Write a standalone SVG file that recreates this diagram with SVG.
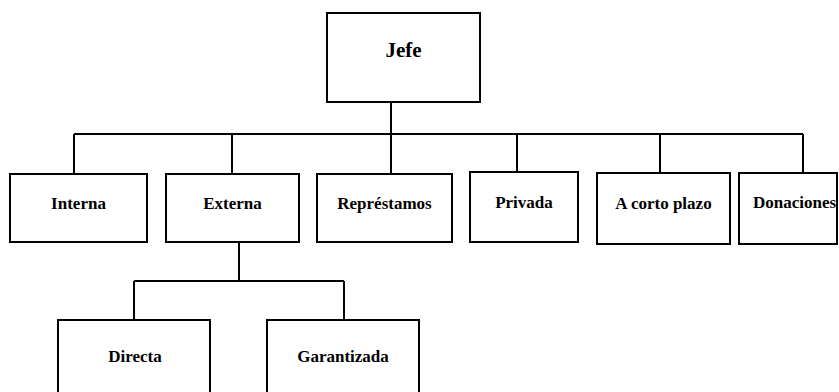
<svg xmlns="http://www.w3.org/2000/svg" width="839" height="392" viewBox="0 0 839 392">
<style>
.box{fill:#fff;stroke:#000;stroke-width:2}
.ln{fill:none;stroke:#000;stroke-width:2}
text{font-family:"Liberation Serif","Times New Roman",serif;font-weight:bold;font-size:17px;text-anchor:middle;fill:#000}
</style>
<rect width="839" height="392" fill="#fff"/>
<g id="connectors">
<path class="ln" d="M391 102V134M74 134H803M74 134V174M232 134V174M391 134V174M517 134V172M660 134V173M803 134V173"/>
<path class="ln" d="M239 242V281M134 281H344M134 281V320M344 281V320"/>
</g>
<g id="jefe"><rect class="box" x="327" y="13" width="153" height="89"/><text x="403.5" y="57" style="font-size:21px">Jefe</text></g>
<g id="interna"><rect class="box" x="10" y="174" width="137" height="68"/><text x="78.5" y="209">Interna</text></g>
<g id="externa"><rect class="box" x="166" y="174" width="133" height="68"/><text x="232.5" y="209">Externa</text></g>
<g id="represtamos"><rect class="box" x="317" y="174" width="135" height="68"/><text x="384.5" y="209">Représtamos</text></g>
<g id="privada"><rect class="box" x="470" y="172" width="108" height="70"/><text x="524" y="208">Privada</text></g>
<g id="corto"><rect class="box" x="597" y="173" width="133" height="71"/><text x="663.5" y="209">A corto plazo</text></g>
<g id="donaciones"><rect class="box" x="739" y="173" width="98" height="71"/><text x="794.5" y="208">Donaciones</text></g>
<g id="directa"><rect class="box" x="58" y="320" width="152" height="80"/><text x="135" y="362">Directa</text></g>
<g id="garantizada"><rect class="box" x="267" y="320" width="152" height="80"/><text x="343" y="362">Garantizada</text></g>
</svg>
